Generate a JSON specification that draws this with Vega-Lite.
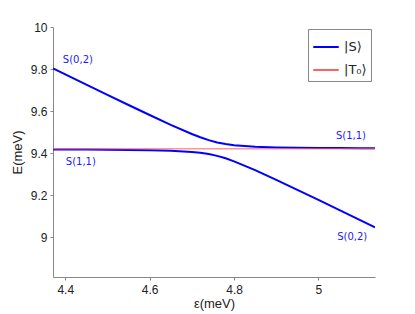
{
  "$schema": "https://vega.github.io/schema/vega-lite/v6.json",
  "width": 322,
  "height": 250,
  "autosize": {"type": "none"},
  "padding": {"left": 53, "top": 27, "right": 40, "bottom": 37},
  "background": "white",
  "config": {
    "view": {"stroke": null},
    "axis": {
      "grid": false,
      "domainColor": "#888888",
      "tickColor": "#888888",
      "labelColor": "#222222",
      "titleColor": "#222222",
      "labelFont": "Liberation Sans",
      "titleFont": "Liberation Sans",
      "labelFontSize": 12,
      "titleFontSize": 13,
      "titleFontWeight": "normal",
      "tickSize": 3
    },
    "legend": {
      "labelFont": "DejaVu Sans",
      "labelFontSize": 13,
      "labelColor": "#222222"
    }
  },
  "datasets": {
    "curves": [
      {"e": 4.371, "E": 9.8027, "state": "|S⟩", "branch": "upper"},
      {"e": 4.45, "E": 9.7257, "state": "|S⟩", "branch": "upper"},
      {"e": 4.5, "E": 9.6771, "state": "|S⟩", "branch": "upper"},
      {"e": 4.55, "E": 9.6288, "state": "|S⟩", "branch": "upper"},
      {"e": 4.6, "E": 9.581, "state": "|S⟩", "branch": "upper"},
      {"e": 4.65, "E": 9.5344, "state": "|S⟩", "branch": "upper"},
      {"e": 4.7, "E": 9.4907, "state": "|S⟩", "branch": "upper"},
      {"e": 4.72, "E": 9.4751, "state": "|S⟩", "branch": "upper"},
      {"e": 4.74, "E": 9.4616, "state": "|S⟩", "branch": "upper"},
      {"e": 4.76, "E": 9.4506, "state": "|S⟩", "branch": "upper"},
      {"e": 4.78, "E": 9.4427, "state": "|S⟩", "branch": "upper"},
      {"e": 4.8, "E": 9.4372, "state": "|S⟩", "branch": "upper"},
      {"e": 4.85, "E": 9.4301, "state": "|S⟩", "branch": "upper"},
      {"e": 4.9, "E": 9.4269, "state": "|S⟩", "branch": "upper"},
      {"e": 4.95, "E": 9.4253, "state": "|S⟩", "branch": "upper"},
      {"e": 5.0, "E": 9.4242, "state": "|S⟩", "branch": "upper"},
      {"e": 5.05, "E": 9.4235, "state": "|S⟩", "branch": "upper"},
      {"e": 5.1, "E": 9.423, "state": "|S⟩", "branch": "upper"},
      {"e": 5.134, "E": 9.4227, "state": "|S⟩", "branch": "upper"},
      {"e": 4.371, "E": 9.4173, "state": "|S⟩", "branch": "lower"},
      {"e": 4.45, "E": 9.4167, "state": "|S⟩", "branch": "lower"},
      {"e": 4.5, "E": 9.416, "state": "|S⟩", "branch": "lower"},
      {"e": 4.55, "E": 9.4151, "state": "|S⟩", "branch": "lower"},
      {"e": 4.6, "E": 9.4136, "state": "|S⟩", "branch": "lower"},
      {"e": 4.65, "E": 9.4111, "state": "|S⟩", "branch": "lower"},
      {"e": 4.7, "E": 9.4055, "state": "|S⟩", "branch": "lower"},
      {"e": 4.72, "E": 9.4014, "state": "|S⟩", "branch": "lower"},
      {"e": 4.74, "E": 9.3954, "state": "|S⟩", "branch": "lower"},
      {"e": 4.76, "E": 9.3866, "state": "|S⟩", "branch": "lower"},
      {"e": 4.78, "E": 9.3749, "state": "|S⟩", "branch": "lower"},
      {"e": 4.8, "E": 9.3606, "state": "|S⟩", "branch": "lower"},
      {"e": 4.85, "E": 9.3186, "state": "|S⟩", "branch": "lower"},
      {"e": 4.9, "E": 9.2725, "state": "|S⟩", "branch": "lower"},
      {"e": 4.95, "E": 9.225, "state": "|S⟩", "branch": "lower"},
      {"e": 5.0, "E": 9.1769, "state": "|S⟩", "branch": "lower"},
      {"e": 5.05, "E": 9.1284, "state": "|S⟩", "branch": "lower"},
      {"e": 5.1, "E": 9.0797, "state": "|S⟩", "branch": "lower"},
      {"e": 5.134, "E": 9.0465, "state": "|S⟩", "branch": "lower"}
    ],
    "triplet": [
      {"e": 4.371, "E": 9.42, "state": "|T₀⟩"},
      {"e": 5.134, "E": 9.42, "state": "|T₀⟩"}
    ],
    "labels": [
      {"e": 4.43, "E": 9.843, "label": "S(0,2)"},
      {"e": 4.437, "E": 9.357, "label": "S(1,1)"},
      {"e": 5.077, "E": 9.481, "label": "S(1,1)"},
      {"e": 5.08, "E": 9.0, "label": "S(0,2)"}
    ]
  },
  "layer": [
    {
      "data": {"name": "curves"},
      "mark": {"type": "line", "strokeWidth": 2, "clip": true},
      "encoding": {
        "x": {
          "field": "e", "type": "quantitative",
          "scale": {"domain": [4.371, 5.134], "nice": false, "zero": false},
          "axis": {"values": [4.4, 4.6, 4.8, 5.0], "format": "~g", "title": "ε(meV)", "titlePadding": 2, "labelPadding": 4}
        },
        "y": {
          "field": "E", "type": "quantitative",
          "scale": {"domain": [8.81, 10], "nice": false, "zero": false},
          "axis": {"values": [9, 9.2, 9.4, 9.6, 9.8, 10], "format": "~g", "title": "E(meV)", "titlePadding": 6, "labelPadding": 3}
        },
        "color": {
          "field": "state", "type": "nominal",
          "scale": {"domain": ["|S⟩", "|T₀⟩"], "range": ["#0000ff", "#ff6060"]},
          "legend": {
            "title": null,
            "orient": "none",
            "legendX": 255,
            "legendY": 2,
            "strokeColor": "#888888",
            "fillColor": "white",
            "padding": 4,
            "symbolType": "stroke",
            "symbolSize": 650,
            "symbolStrokeWidth": 2,
            "rowPadding": 2,
            "labelOffset": 4
          }
        },
        "detail": {"field": "branch"}
      }
    },
    {
      "data": {"name": "triplet"},
      "mark": {"type": "line", "strokeWidth": 1, "clip": true},
      "encoding": {
        "x": {"field": "e", "type": "quantitative"},
        "y": {"field": "E", "type": "quantitative"},
        "color": {"field": "state", "type": "nominal"}
      }
    },
    {
      "data": {"name": "labels"},
      "mark": {"type": "text", "color": "#1a1aff", "font": "DejaVu Sans", "fontSize": 10, "baseline": "middle", "align": "center"},
      "encoding": {
        "x": {"field": "e", "type": "quantitative"},
        "y": {"field": "E", "type": "quantitative"},
        "text": {"field": "label"}
      }
    }
  ]
}
